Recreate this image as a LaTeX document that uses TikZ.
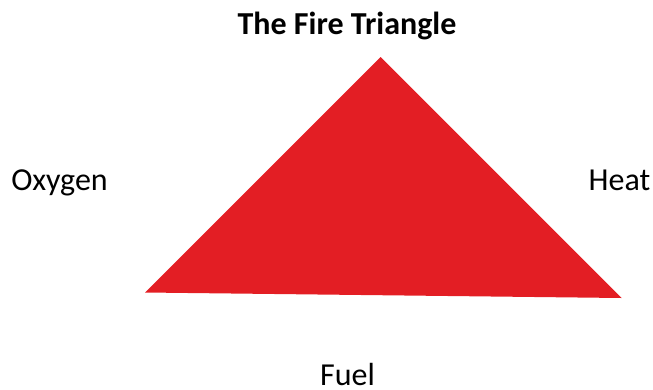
\documentclass[tikz,border=0pt]{standalone}
\usepackage{fontspec}
\setmainfont{Carlito}
\usepackage{tikz}
\usepackage{xcolor}
\definecolor{firered}{RGB}{227, 30, 36}
\usetikzlibrary{positioning}

\begin{document}
\begin{tikzpicture}[x=1pt, y=-1pt,
    label/.style={font=\fontsize{32}{36}\selectfont, inner sep=0pt, anchor=base},
    title/.style={font=\fontsize{32}{36}\selectfont\bfseries, inner sep=0pt, anchor=base}]
  \useasboundingbox (0,0) rectangle (653,389);
  % Triangle corners
  \coordinate (top) at (380.5,57);
  \coordinate (left) at (145,292.5);
  \coordinate (right) at (621.5,298);
  \fill[firered] (top) -- (right) -- (left) -- cycle;
  % Labels
  \node[title] (heading) at (347,34) {The Fire Triangle};
  \node[label] (oxygen) at (59.5,190) {Oxygen};
  \node[label] (heat) at (619.5,190) {Heat};
  \node[label] (fuel) at (347.5,385) {Fuel};
\end{tikzpicture}
\end{document}
